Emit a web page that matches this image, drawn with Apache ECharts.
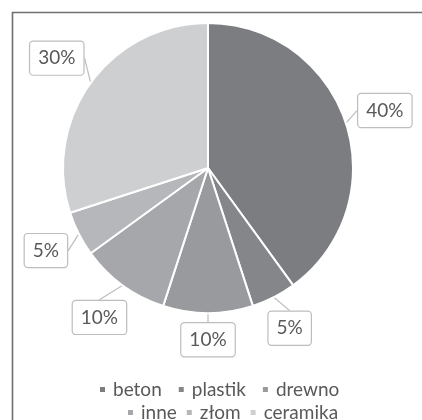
<!DOCTYPE html>
<html>
<head>
<meta charset="utf-8">
<script src="https://cdn.jsdelivr.net/npm/echarts@6/dist/echarts.min.js"></script>
<style>
html,body{margin:0;padding:0;background:#fff;}
#chart{width:422px;height:420px;}
</style>
</head>
<body>
<div id="chart"></div>
<script>
// ---- data ----
const categories = ['beton', 'plastik', 'drewno', 'inne', 'złom', 'ceramika'];
const values = [40, 5, 10, 10, 5, 30];
const colors = ['#7c7d81', '#85868a', '#999a9e', '#a6a7aa', '#b6b7ba', '#cecfd1'];
const legendRow1 = ['beton', 'plastik', 'drewno'];
const legendRow2 = ['inne', 'złom', 'ceramika'];

// ---- layout ----
const CX = 208, CY = 168, R = 145, GAP = 9;
const FONT = 'Lato, "Open Sans", sans-serif';

const total = values.reduce((a, b) => a + b, 0);
const midAngles = [];
let cum = 0;
values.forEach(v => { midAngles.push((cum + v / 2) / total * 2 * Math.PI); cum += v; });

const chart = echarts.init(document.getElementById('chart'), null, {renderer: 'canvas'});

const legendCommon = {
  orient: 'horizontal',
  icon: 'rect',
  itemWidth: 7,
  itemHeight: 7,
  textStyle: {fontFamily: FONT, fontSize: 19, color: '#595959', padding: [0, 0, 0, 2]},
  selectedMode: false
};

chart.setOption({
  backgroundColor: '#ffffff',
  animation: false,
  color: colors,
  graphic: [{
    type: 'rect',
    left: 10, top: 10,
    shape: {width: 412, height: 420},
    style: {fill: 'none', stroke: '#6f6f6f', lineWidth: 1.6},
    silent: true
  }],
  legend: [
    Object.assign({}, legendCommon, {left: 93, top: 375, itemGap: 15, data: legendRow1}),
    Object.assign({}, legendCommon, {left: 121, top: 398, itemGap: 8, data: legendRow2})
  ],
  series: [{
    type: 'pie',
    center: [CX, CY],
    radius: [0, R],
    startAngle: 90,
    clockwise: true,
    avoidLabelOverlap: false,
    itemStyle: {borderColor: '#ffffff', borderWidth: 2},
    data: categories.map((c, i) => ({name: c, value: values[i]})),
    label: {
      show: true,
      position: 'outside',
      formatter: p => Math.round(p.percent) + '%',
      fontFamily: FONT,
      fontSize: 19,
      color: '#595959',
      backgroundColor: '#ffffff',
      borderColor: '#bdbdbd',
      borderWidth: 1.2,
      borderRadius: 3,
      padding: [8, 8, 6, 8]
    },
    labelLine: {
      show: true,
      length: 6,
      length2: 0,
      lineStyle: {color: '#bdbdbd', width: 1.2}
    },
    labelLayout: function (p) {
      const a = midAngles[p.dataIndex];
      const ux = Math.sin(a), uy = -Math.cos(a);
      const w = p.labelRect.width, h = p.labelRect.height;
      const d = R + GAP + Math.abs(ux) * w / 2 + Math.abs(uy) * h / 2;
      return {x: CX + ux * d, y: CY + uy * d, align: 'center', verticalAlign: 'middle'};
    },
    emphasis: {disabled: true}
  }]
});
</script>
</body>
</html>
